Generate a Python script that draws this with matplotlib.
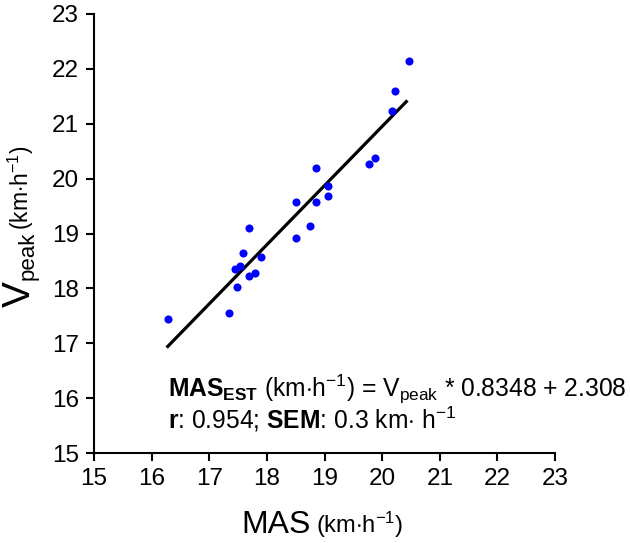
import numpy as np
import matplotlib
matplotlib.use("Agg")
import matplotlib.pyplot as plt

plt.rcParams["font.family"] = ["Liberation Sans", "DejaVu Sans"]
plt.rcParams["mathtext.fontset"] = "custom"
plt.rcParams["mathtext.rm"] = "Liberation Sans"
plt.rcParams["mathtext.bf"] = "Liberation Sans:bold"
plt.rcParams["mathtext.it"] = "Liberation Sans:italic"

# MAS (x) vs Vpeak (y)
mas = [16.28, 17.34, 17.48, 17.44, 17.54, 17.59, 17.69, 17.80, 17.89, 17.69, 18.50,
       18.50, 18.75, 18.86, 18.86, 19.06, 19.06, 19.77, 19.87, 20.17, 20.22, 20.47]
vpeak = [17.44, 17.56, 18.03, 18.36, 18.40, 18.65, 18.23, 18.28, 18.57, 19.10, 18.92,
         19.57, 19.14, 19.57, 20.19, 19.68, 19.87, 20.27, 20.38, 21.23, 21.60, 22.14]
ticks = list(range(15, 24))

fig = plt.figure(figsize=(6.3, 5.43), dpi=100)
ax = fig.add_axes([94/630, 1-453/543, (555-94)/630, (453-14)/543])

ax.scatter(mas, vpeak, s=34, color="#0000ff", zorder=3, linewidths=0)
k, b = np.polyfit(mas, vpeak, 1)
xs = np.array([min(mas), max(mas) - 0.05])
ax.plot(xs, k*xs + b, color="black", lw=2.3, zorder=2)

ax.set_xlim(15, 23); ax.set_ylim(15, 23)
ax.set_xticks(ticks); ax.set_yticks(ticks)
for s in ("top", "right"):
    ax.spines[s].set_visible(False)
for s in ("left", "bottom"):
    ax.spines[s].set_linewidth(1.5)
ax.tick_params(direction="out", length=6, width=1.5, labelsize=17.5, pad=5)

ax.text(16.28, 16.02, r"$\mathbf{MAS}_{\mathbf{EST}}$ (km$\cdot$h$^{\mathregular{-1}}$) = V$_{\mathregular{peak}}$ * 0.8348 + 2.308",
        fontsize=17.7, va="baseline", ha="left")
ax.text(16.28, 15.44, r"$\mathbf{r}$: 0.954; $\mathbf{SEM}$: 0.3 km$\cdot$ h$^{\mathregular{-1}}$",
        fontsize=17.7, va="baseline", ha="left")

# axis labels: big symbol + smaller units
fig.text(311/630, 1-533/543, "MAS", fontsize=23, ha="right", va="baseline")
fig.text(316/630, 1-533/543, r"(km$\cdot$h$^{\mathregular{-1}}$)", fontsize=17, ha="left", va="baseline")
fig.text(30/630, 1-307/543, "V", fontsize=28, rotation=90,
         rotation_mode="anchor", ha="left", va="baseline")
fig.text(34/630, 1-280/543, "peak", fontsize=16, rotation=90,
         rotation_mode="anchor", ha="left", va="baseline")
fig.text(29/630, 1-230/543, r"(km$\cdot$h$^{\mathregular{-1}}$)", fontsize=16.5, rotation=90,
         rotation_mode="anchor", ha="left", va="baseline")

fig.savefig("out.png", dpi=100)
